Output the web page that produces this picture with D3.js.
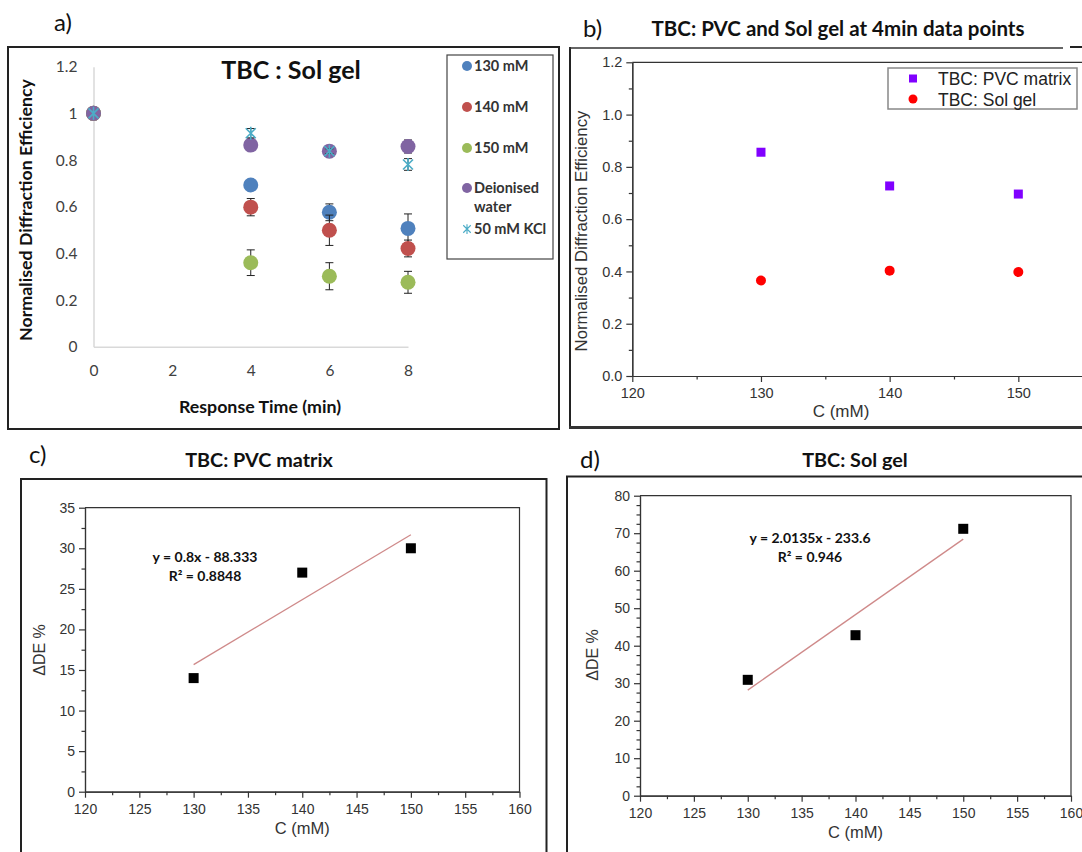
<!DOCTYPE html>
<html>
<head>
<meta charset="utf-8">
<script src="https://cdn.jsdelivr.net/npm/d3@7"></script>
<style>
  body { margin: 0; background: #fff; }
  svg { display: block; }
</style>
</head>
<body>
<div id="chart"></div>
<script>
// ---------- data ----------
// a) TBC sol gel, normalised DE vs response time
var timeTicks = [0, 2, 4, 6, 8];
var timesA = [0, 4, 6, 8];
var namesA = ["130 mM", "140 mM", "150 mM", "Deionised water", "50 mM KCl"];
var de130 = [1, 0.693, 0.576, 0.507];
var err130 = [0, 0.01, 0.036, 0.062];
var de140 = [1, 0.598, 0.499, 0.421];
var err140 = [0, 0.037, 0.065, 0.036];
var de150 = [1, 0.36, 0.302, 0.276];
var err150 = [0, 0.055, 0.058, 0.047];
var deWater = [1, 0.864, 0.838, 0.858];
var errWater = [0, 0.02, 0.01, 0.028];
var deKCl = [1, 0.915, 0.838, 0.781];
var errKCl = [0, 0.02, 0.01, 0.025];

// b) 4 min data points
var concB = [130, 140, 150];
var pvc4min = [0.856, 0.727, 0.696];
var solgel4min = [0.365, 0.403, 0.398];

// c) and d) delta DE vs concentration, with linear trendlines
var concCD = [130, 140, 150];
var deltaPVC = [14, 27, 30];
var deltaSolGel = [30.9, 42.8, 71.17];
var fitPVC = [0.8, -88.333];      // slope, intercept
var fitSolGel = [2.0135, -233.6];
var eqPVC = ["y = 0.8x - 88.333", "R\u00b2 = 0.8848"];
var eqSolGel = ["y = 2.0135x - 233.6", "R\u00b2 = 0.946"];

var colorsA = ["#4f81bd", "#c0504d", "#9bbb59", "#8064a2", "#4bacc6"];
var calibri = "Lato, 'Open Sans', sans-serif";
var arial = "'Liberation Sans', Arial, sans-serif";

var svg = d3.select("#chart").append("svg")
    .attr("width", 1082)
    .attr("height", 852)
    .style("background", "#fff");

function label(txt, x, y) {
    svg.append("text").attr("x", x).attr("y", y)
        .style("font-family", calibri).style("font-size", "24px")
        .attr("fill", "#111").text(txt);
}

function styleAxis(g, color, size) {
    g.selectAll("path.domain").attr("stroke", color).attr("stroke-width", 1.2);
    g.selectAll(".tick line").attr("stroke", color).attr("stroke-width", 1.2);
    g.selectAll("text").style("font-family", arial).style("font-size", size + "px").attr("fill", "#333");
}

// ================= panel a =================
label("a)", 54, 31);
svg.append("rect").attr("x", 8).attr("y", 47).attr("width", 551).attr("height", 382)
    .attr("fill", "none").attr("stroke", "#222").attr("stroke-width", 2);

var xA = d3.scaleLinear().domain([0, 8]).range([93.5, 408]);
var yA = d3.scaleLinear().domain([0, 1.2]).range([346.7, 66.7]);

var axA = svg.append("g").attr("transform", "translate(0,346.7)")
    .call(d3.axisBottom(xA).tickValues(timeTicks).tickSize(0).tickPadding(18).tickFormat(d3.format("d")));
var ayA = svg.append("g").attr("transform", "translate(93.5,0)")
    .call(d3.axisLeft(yA).tickValues([0, 0.2, 0.4, 0.6, 0.8, 1, 1.2]).tickSize(0).tickPadding(16)
        .tickFormat(function(d) { return d3.format("~g")(d); }));
[axA, ayA].forEach(function(g) {
    g.selectAll("path.domain").attr("stroke", "#d9d9d9").attr("stroke-width", 1.5);
    g.selectAll("text").style("font-family", calibri).style("font-size", "15.5px").attr("fill", "#404040");
});

svg.append("text").attr("x", 291).attr("y", 79).attr("text-anchor", "middle")
    .style("font-family", calibri).style("font-size", "25px").style("font-weight", "bold")
    .attr("fill", "#111").text("TBC : Sol gel");
svg.append("text").attr("x", 260).attr("y", 413).attr("text-anchor", "middle")
    .style("font-family", calibri).style("font-size", "17.8px").style("font-weight", "bold")
    .attr("fill", "#111").text("Response Time (min)");
svg.append("text").attr("transform", "translate(32,210) rotate(-90)").attr("text-anchor", "middle")
    .style("font-family", calibri).style("font-size", "17.8px").style("font-weight", "bold")
    .attr("fill", "#111").text("Normalised Diffraction Efficiency");

var seriesA = [
    {vals: de130, errs: err130},
    {vals: de140, errs: err140},
    {vals: de150, errs: err150},
    {vals: deWater, errs: errWater},
    {vals: deKCl, errs: errKCl}
];
var starPath = "M-5,-5L5,5M-5,5L5,-5M0,-6.5L0,6.5";

seriesA.forEach(function(s, i) {
    var pts = timesA.map(function(t, j) { return {t: t, v: s.vals[j], e: s.errs[j]}; });
    var g = svg.append("g");
    var eb = g.selectAll("g.err").data(pts.filter(function(p) { return p.e > 0; })).enter().append("g");
    eb.append("line")
        .attr("x1", function(p) { return xA(p.t); }).attr("x2", function(p) { return xA(p.t); })
        .attr("y1", function(p) { return yA(p.v + p.e); }).attr("y2", function(p) { return yA(p.v - p.e); })
        .attr("stroke", "#222").attr("stroke-width", 1);
    [1, -1].forEach(function(sign) {
        eb.append("line")
            .attr("x1", function(p) { return xA(p.t) - 4; }).attr("x2", function(p) { return xA(p.t) + 4; })
            .attr("y1", function(p) { return yA(p.v + sign * p.e); }).attr("y2", function(p) { return yA(p.v + sign * p.e); })
            .attr("stroke", "#222").attr("stroke-width", 1);
    });
    if (i < 4) {
        g.selectAll("circle").data(pts).enter().append("circle")
            .attr("cx", function(p) { return xA(p.t); })
            .attr("cy", function(p) { return yA(p.v); })
            .attr("r", 7.5)
            .attr("fill", colorsA[i]);
    } else {
        g.selectAll("path.star").data(pts).enter().append("path")
            .attr("transform", function(p) { return "translate(" + xA(p.t) + "," + yA(p.v) + ")"; })
            .attr("d", starPath)
            .attr("fill", "none").attr("stroke", colorsA[i]).attr("stroke-width", 1.6);
    }
});

// legend a
svg.append("rect").attr("x", 447).attr("y", 55).attr("width", 106).attr("height", 204)
    .attr("fill", "#fff").attr("stroke", "#444").attr("stroke-width", 1.2);
var legYA = [66, 107, 148, 188, 229];
namesA.forEach(function(n, i) {
    var y = legYA[i];
    if (i < 4) {
        svg.append("circle").attr("cx", 467).attr("cy", y).attr("r", 5).attr("fill", colorsA[i]);
    } else {
        svg.append("path").attr("transform", "translate(467," + y + ") scale(0.75)").attr("d", starPath)
            .attr("fill", "none").attr("stroke", colorsA[i]).attr("stroke-width", 1.5);
    }
    var lines = n === "Deionised water" ? ["Deionised", "water"] : [n];
    lines.forEach(function(l, k) {
        svg.append("text").attr("x", 474).attr("y", y + 5 + k * 19)
            .style("font-family", calibri).style("font-size", "14.5px").style("font-weight", "bold")
            .attr("fill", "#333").text(l);
    });
});

// ================= panel b =================
label("b)", 583, 37);
svg.append("text").attr("x", 838).attr("y", 36).attr("text-anchor", "middle")
    .style("font-family", calibri).style("font-size", "20.5px").style("font-weight", "bold")
    .attr("fill", "#111").text("TBC: PVC and Sol gel at 4min data points");
svg.append("line").attr("x1", 570).attr("x2", 570).attr("y1", 47).attr("y2", 428)
    .attr("stroke", "#222").attr("stroke-width", 2);
svg.append("line").attr("x1", 569).attr("x2", 1063).attr("y1", 48).attr("y2", 48)
    .attr("stroke", "#333").attr("stroke-width", 1.3);
svg.append("line").attr("x1", 1070).attr("x2", 1082).attr("y1", 47).attr("y2", 47)
    .attr("stroke", "#222").attr("stroke-width", 2);
svg.append("line").attr("x1", 569).attr("x2", 1082).attr("y1", 427.5).attr("y2", 427.5)
    .attr("stroke", "#333").attr("stroke-width", 3);

var xB = d3.scaleLinear().domain([120, 160]).range([632.3, 1147]);
var yB = d3.scaleLinear().domain([0, 1.2]).range([376, 62.3]);

function originAxes(xs, ys, xMaj, xMin, yMaj, yMin, yFmt, fs) {
    var y0 = ys.range()[0], x0 = xs.range()[0];
    var g1 = svg.append("g").attr("transform", "translate(0," + y0 + ")")
        .call(d3.axisBottom(xs).tickValues(xMaj).tickSize(6).tickSizeOuter(0).tickPadding(6).tickFormat(d3.format("d")));
    var g2 = svg.append("g").attr("transform", "translate(0," + y0 + ")")
        .call(d3.axisBottom(xs).tickValues(xMin).tickSize(3.5).tickSizeOuter(0).tickFormat(""));
    var g3 = svg.append("g").attr("transform", "translate(" + x0 + ",0)")
        .call(d3.axisLeft(ys).tickValues(yMaj).tickSize(6).tickSizeOuter(0).tickPadding(4).tickFormat(yFmt));
    var g4 = svg.append("g").attr("transform", "translate(" + x0 + ",0)")
        .call(d3.axisLeft(ys).tickValues(yMin).tickSize(3.5).tickSizeOuter(0).tickFormat(""));
    [g1, g2, g3, g4].forEach(function(g) { styleAxis(g, "#333", fs); });
}

// the 160 end of this axis lies beyond the picture's right edge
originAxes(xB, yB, [120, 130, 140, 150], [125, 135, 145, 155],
    [0, 0.2, 0.4, 0.6, 0.8, 1.0, 1.2], [0.1, 0.3, 0.5, 0.7, 0.9, 1.1], d3.format(".1f"), 14.5);
svg.append("line").attr("x1", xB(120)).attr("x2", 1082).attr("y1", yB(1.2)).attr("y2", yB(1.2))
    .attr("stroke", "#333").attr("stroke-width", 1.2);

svg.append("text").attr("x", 841).attr("y", 417).attr("text-anchor", "middle")
    .style("font-family", arial).style("font-size", "17px").attr("fill", "#333").text("C (mM)");
svg.append("text").attr("transform", "translate(587,231) rotate(-90)").attr("text-anchor", "middle")
    .style("font-family", arial).style("font-size", "16.8px").attr("fill", "#333").text("Normalised Diffraction Efficiency");

svg.append("g").selectAll("rect").data(concB).enter().append("rect")
    .attr("x", function(d) { return xB(d) - 4.5; })
    .attr("y", function(d, i) { return yB(pvc4min[i]) - 4.5; })
    .attr("width", 9).attr("height", 9).attr("fill", "#8000ff");
svg.append("g").selectAll("circle").data(concB).enter().append("circle")
    .attr("cx", function(d) { return xB(d); })
    .attr("cy", function(d, i) { return yB(solgel4min[i]); })
    .attr("r", 5).attr("fill", "#ff0000");

svg.append("rect").attr("x", 888).attr("y", 68).attr("width", 189).attr("height", 41)
    .attr("fill", "#fff").attr("stroke", "#888").attr("stroke-width", 1.5);
svg.append("rect").attr("x", 909).attr("y", 74.5).attr("width", 8).attr("height", 8).attr("fill", "#8000ff");
svg.append("circle").attr("cx", 913).attr("cy", 99).attr("r", 4.5).attr("fill", "#ff0000");
svg.append("text").attr("x", 938).attr("y", 85).style("font-family", arial).style("font-size", "17.5px")
    .attr("fill", "#222").text("TBC: PVC matrix");
svg.append("text").attr("x", 938).attr("y", 106).style("font-family", arial).style("font-size", "17.5px")
    .attr("fill", "#222").text("TBC: Sol gel");

// ================= panels c and d =================
function deltaPanel(opts) {
    label(opts.tag, opts.tagX, opts.tagY);
    svg.append("text").attr("x", opts.titleX).attr("y", opts.titleY).attr("text-anchor", "middle")
        .style("font-family", calibri).style("font-size", "19.8px").style("font-weight", "bold")
        .attr("fill", "#111").text(opts.title);
    // outer frame (runs off the bottom of the picture)
    svg.append("path")
        .attr("d", "M" + opts.box[0] + ",860V" + opts.box[1] + "H" + opts.box[2] + "V860")
        .attr("fill", "none").attr("stroke", "#222").attr("stroke-width", 2);

    var xs = d3.scaleLinear().domain([120, 160]).range(opts.xr);
    var ys = d3.scaleLinear().domain([0, opts.yMax]).range(opts.yr);
    originAxes(xs, ys, d3.range(120, 161, 5), d3.range(122.5, 160, 5),
        d3.range(0, opts.yMax + 1, opts.yStep), opts.yMinor, d3.format("d"), 14);
    svg.append("path")
        .attr("d", "M" + xs(120) + "," + ys(opts.yMax) + "H" + xs(160) + "V" + ys(0))
        .attr("fill", "none").attr("stroke", "#333").attr("stroke-width", 1.2);

    svg.append("text").attr("x", (opts.xr[0] + opts.xr[1]) / 2).attr("y", ys(0) + 42).attr("text-anchor", "middle")
        .style("font-family", arial).style("font-size", "16.5px").attr("fill", "#333").text("C (mM)");
    svg.append("text").attr("transform", "translate(" + opts.yTitleX + "," + opts.yTitleY + ") rotate(-90)")
        .attr("text-anchor", "middle")
        .style("font-family", arial).style("font-size", "16px").attr("fill", "#333").text("\u0394DE %");

    // trendline from the equation shown on the chart
    var fx = d3.extent(concCD);
    svg.append("line")
        .attr("x1", xs(fx[0])).attr("y1", ys(opts.fit[0] * fx[0] + opts.fit[1]))
        .attr("x2", xs(fx[1])).attr("y2", ys(opts.fit[0] * fx[1] + opts.fit[1]))
        .attr("stroke", "#cf8a8a").attr("stroke-width", 1.3);

    svg.append("g").selectAll("rect").data(concCD).enter().append("rect")
        .attr("x", function(d) { return xs(d) - 5; })
        .attr("y", function(d, i) { return ys(opts.vals[i]) - 5; })
        .attr("width", 10).attr("height", 10).attr("fill", "#000");

    opts.eq.forEach(function(t, k) {
        svg.append("text").attr("x", opts.eqX).attr("y", opts.eqY + k * 19).attr("text-anchor", "middle")
            .style("font-family", calibri).style("font-size", "14px").style("font-weight", "bold")
            .attr("fill", "#111").text(t);
    });
}

deltaPanel({
    tag: "c)", tagX: 29, tagY: 463,
    title: "TBC: PVC matrix", titleX: 259, titleY: 467,
    box: [21, 479, 546.5],
    xr: [85, 519.5], yr: [791.7, 507.7], yMax: 35, yStep: 5,
    yMinor: d3.range(2.5, 35, 5),
    vals: deltaPVC, fit: fitPVC, eq: eqPVC, eqX: 205, eqY: 562,
    yTitleX: 45, yTitleY: 650
});

deltaPanel({
    tag: "d)", tagX: 580, tagY: 468,
    title: "TBC: Sol gel", titleX: 855, titleY: 467,
    box: [567, 476.5, 1090],
    xr: [640, 1071], yr: [795.7, 495.7], yMax: 80, yStep: 10,
    yMinor: d3.range(0, 80, 2.5).filter(function(v) { return v % 10 !== 0; }),
    vals: deltaSolGel, fit: fitSolGel, eq: eqSolGel, eqX: 810, eqY: 543,
    yTitleX: 598, yTitleY: 655
});
</script>
</body>
</html>
